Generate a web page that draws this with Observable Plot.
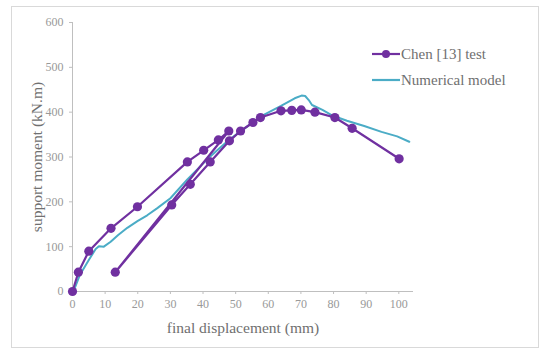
<!DOCTYPE html>
<html>
<head>
<meta charset="utf-8">
<script src="https://cdn.jsdelivr.net/npm/d3@7"></script>
<script src="https://cdn.jsdelivr.net/npm/@observablehq/plot@0.6"></script>
<style>
  html, body { margin: 0; padding: 0; background: #fff; }
  #wrap { position: relative; width: 542px; height: 349px; overflow: hidden; }
  #frame { position: absolute; left: 11px; top: 6px; width: 526px; height: 340px; border: 1px solid #d9d9d9; box-sizing: content-box; }
  #chart { position: absolute; left: 0; top: 0; }
  #chart svg text { font-family: "Liberation Serif", "DejaVu Serif", serif; }
  #legend { position: absolute; left: 372px; top: 41px; font-family: "Liberation Serif", "DejaVu Serif", serif; font-size: 15px; color: #6f6f6f; }
  .li { display: flex; align-items: center; height: 26px; }
  .li svg { margin-right: 1px; }
</style>
</head>
<body>
<div id="wrap">
  <div id="frame"></div>
  <div id="chart"></div>
  <div id="legend"></div>
</div>
<script>
const seriesNames = ["Chen [13] test", "Numerical model"];
const seriesColors = ["#7030A0", "#4BACC6"];

const testX = [0, 1.8, 5.0, 11.8, 19.9, 35.2, 40.2, 44.7, 47.9, 13.1, 30.4, 36.1, 42.2, 48.1, 51.5, 55.3, 57.6, 63.9, 67.2, 70.1, 74.3, 80.4, 85.7, 100.1];
const testY = [0, 43, 90, 141, 189, 289, 315, 338, 358, 43, 193, 239, 289, 336, 358, 377, 388, 403, 404, 405, 400, 388, 364, 296];

const modelX = [0.3, 2.2, 4.9, 7.1, 8.1, 9.6, 11.7, 14, 16.8, 19.9, 22.9, 26, 30, 35.2, 41.6, 47.9, 52.2, 58.6, 63.9, 68.1, 70.2, 71.3, 72.4, 73.4, 76.6, 79.8, 84.1, 89.4, 94.7, 99.5, 103.2];
const modelY = [0, 36, 69, 95, 101, 100, 111, 126, 142, 157, 170, 186, 208, 250, 297, 338, 361, 394, 414, 431, 437, 436, 427, 416, 405, 392, 381, 369, 356, 346, 334];

const xTicks = [0, 10, 20, 30, 40, 50, 60, 70, 80, 90, 100];
const yTicks = [0, 100, 200, 300, 400, 500, 600];

const test = testX.map((x, i) => ({x, y: testY[i]}));
const model = modelX.map((x, i) => ({x, y: modelY[i]}));

const font = '"Liberation Serif", "DejaVu Serif", serif';

const chart = Plot.plot({
  width: 542,
  height: 349,
  marginLeft: 72,
  marginRight: 129,
  marginTop: 22,
  marginBottom: 58,
  style: { fontFamily: font, fontSize: "12px", color: "#8c8c8c", background: "transparent" },
  x: { domain: [0, 104.5], ticks: xTicks },
  y: { domain: [0, 600], ticks: yTicks },
  marks: [
    Plot.axisX({ ticks: xTicks, tickSize: 3, tickPadding: 5, stroke: "#bfbfbf", label: null, color: "#999", fontSize: 12 }),
    Plot.axisY({ ticks: yTicks, tickSize: 3, tickPadding: 6, stroke: "#bfbfbf", label: null, color: "#999", fontSize: 12 }),
    Plot.ruleY([0], { stroke: "#bfbfbf" }),
    Plot.ruleX([0], { stroke: "#bfbfbf" }),
    Plot.axisX({ ticks: [], label: "final displacement (mm)", labelAnchor: "center", labelOffset: 41, labelArrow: "none", fontSize: 15.5, color: "#707070" }),
    Plot.axisY({ ticks: [], label: "support moment (kN.m)", labelAnchor: "center", labelOffset: 42, labelArrow: "none", fontSize: 15.5, color: "#707070" }),
    Plot.line(model, { x: "x", y: "y", stroke: seriesColors[1], strokeWidth: 2 }),
    Plot.line(test, { x: "x", y: "y", stroke: seriesColors[0], strokeWidth: 2.2 }),
    Plot.dot(test, { x: "x", y: "y", fill: seriesColors[0], r: 4.6 })
  ]
});
document.getElementById("chart").appendChild(chart);

const legend = document.getElementById("legend");
seriesNames.forEach((name, i) => {
  const row = document.createElement("div");
  row.className = "li";
  const dot = i === 0 ? `<circle cx="14" cy="5" r="4" fill="${seriesColors[i]}"/>` : "";
  row.innerHTML = `<svg width="28" height="10"><line x1="0" x2="28" y1="5" y2="5" stroke="${seriesColors[i]}" stroke-width="2.2"/>${dot}</svg><span>${name}</span>`;
  legend.appendChild(row);
});
</script>
</body>
</html>
